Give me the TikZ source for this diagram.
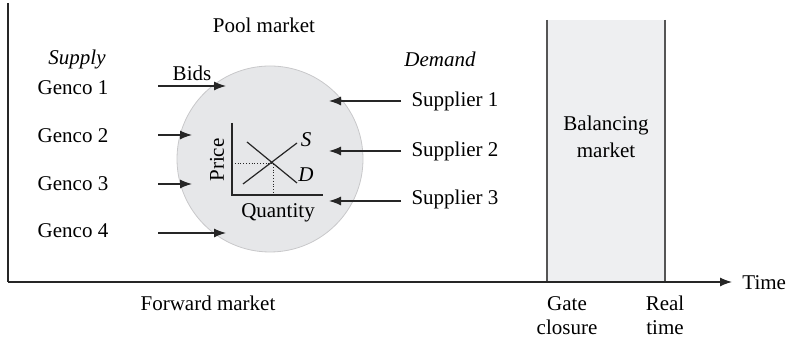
\documentclass[tikz,border=0pt]{standalone}
\usepackage{fontspec}
\setmainfont{Liberation Serif}
\usetikzlibrary{arrows.meta}
\definecolor{poolfill}{HTML}{E6E7E9}
\definecolor{poolline}{HTML}{C8C8CA}
\definecolor{balfill}{HTML}{EEEFF1}
\definecolor{balline}{HTML}{555555}

\begin{document}
\begin{tikzpicture}[x=0.5pt,y=-0.5pt,>={Latex[length=6pt,width=4.5pt]},font=\fontsize{10.5}{12.5}\selectfont]
\useasboundingbox (0,0) rectangle (788,340);
\tikzset{lbl/.style={inner sep=1pt,align=center},
  bid/.style={->,semithick,black!85}}
% balancing market and time axis
\fill[balfill] (547,20) rectangle (665,282);
\draw[semithick,balline] (547,20) -- (547,282) (665,20) -- (665,282);
\node[lbl] (bal) at (606,137) {Balancing\\[1pt]market};
\coordinate (top) at (8,3);
\coordinate (origin) at (8,282);
\coordinate (tend) at (732,282);
\draw[semithick,black!85] (top) -- (origin);
\draw[bid] (origin) -- (tend);
\node[lbl,anchor=west] (time) at (740,283) {Time};
\node[lbl,anchor=north] (gate) at (567,294) {Gate\\[-0.5pt]closure};
\node[lbl,anchor=north] (real) at (665,294) {Real\\[-0.5pt]time};
\node[lbl] (fwd) at (208,303) {Forward market};
% pool market
\node[circle,fill=poolfill,draw=poolline,minimum size=93pt] (pool) at (270,159) {};
\node[lbl] (pooltitle) at (264,25) {Pool market};
\node[lbl] (supply) at (77,59) {\itshape Supply};
\node[lbl] (demand) at (440,59) {\itshape Demand};
\node[lbl] (bids) at (192,73) {Bids};
\foreach \i/\y in {1/88,2/136,3/184,4/231}
  \node[lbl] (genco\i) at (73,\y) {Genco \i};
\foreach \i/\y in {1/101,2/151,3/199}
  \node[lbl] (supplier\i) at (455,\y) {Supplier \i};
% bids into the pool
\foreach \i/\y/\x in {1/86/226,2/135/192,3/184/192,4/233/226}{
  \coordinate (gin\i) at (158,\y);
  \coordinate (gout\i) at (\x,\y);
  \draw[bid] (gin\i) -- (gout\i);
}
\foreach \i/\y in {1/101,2/151,3/201}{
  \coordinate (sin\i) at (401,\y);
  \coordinate (sout\i) at (329,\y);
  \draw[bid] (sin\i) -- (sout\i);
}
% supply and demand curves
\coordinate (ptop) at (232,123);
\coordinate (porig) at (232,195);
\coordinate (pend) at (323,195);
\coordinate (cross) at (273,163);
\draw[semithick,black!85] (ptop) -- (porig) -- (pend);
\draw[semithick,black!85] (243,184) -- (297,143) (247,142) -- (297,183);
\draw[densely dotted,black!85] (porig |- cross) -- (cross) -- (cross |- porig);
\node[lbl] (slab) at (306,140) {\itshape S};
\node[lbl] (dlab) at (306,175) {\itshape D};
\node[lbl,rotate=90] (price) at (217,160) {Price};
\node[lbl] (qty) at (278,213) {Quantity};
\end{tikzpicture}
\end{document}
